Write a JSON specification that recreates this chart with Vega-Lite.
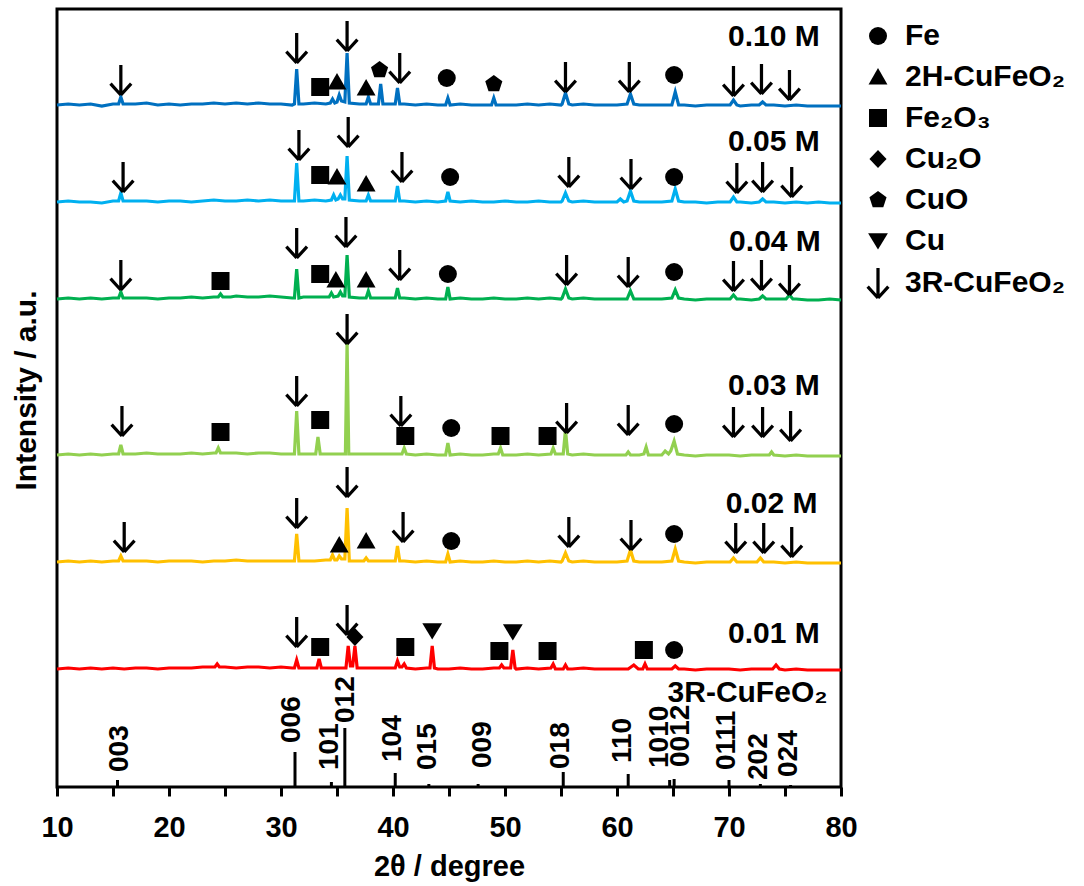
{
  "$schema": "https://vega.github.io/schema/vega-lite/v6.json",
  "width": 784,
  "height": 778,
  "autosize": {"type": "none"},
  "padding": {"left": 57, "top": 9, "right": 243, "bottom": 99},
  "config": {"view": {"stroke": "black", "strokeWidth": 3}, "font": "Liberation Sans"},
  "datasets": {
    "sticks": [
      {"x": 15.4, "y": 7}, {"x": 31.25, "y": 35}, {"x": 34.5, "y": 5}, {"x": 35.7, "y": 59},
      {"x": 40.2, "y": 14}, {"x": 43.2, "y": 3}, {"x": 47.6, "y": 3}, {"x": 55.2, "y": 15},
      {"x": 61.0, "y": 13}, {"x": 64.7, "y": 7}, {"x": 65.1, "y": 8}, {"x": 70.0, "y": 7},
      {"x": 72.8, "y": 3}, {"x": 75.5, "y": 2}
    ],
    "hkl": [
      {"t": "003", "x": 15.6, "y": 15}, {"t": "006", "x": 31.0, "y": 44}, {"t": "101", "x": 34.4, "y": 17},
      {"t": "012", "x": 35.8, "y": 64}, {"t": "104", "x": 40.0, "y": 25}, {"t": "015", "x": 43.1, "y": 17},
      {"t": "009", "x": 48.0, "y": 19}, {"t": "018", "x": 55.0, "y": 18}, {"t": "110", "x": 60.5, "y": 24},
      {"t": "1010", "x": 63.8, "y": 19}, {"t": "0012", "x": 65.7, "y": 20}, {"t": "0111", "x": 69.8, "y": 17},
      {"t": "202", "x": 72.7, "y": 7}, {"t": "024", "x": 75.4, "y": 10}
    ],
    "labels": [
      {"t": "0.10 M", "x": 78.1, "y": 750}, {"t": "0.05 M", "x": 78.1, "y": 645},
      {"t": "0.04 M", "x": 78.2, "y": 545}, {"t": "0.03 M", "x": 78.1, "y": 401},
      {"t": "0.02 M", "x": 77.9, "y": 283}, {"t": "0.01 M", "x": 78.1, "y": 153},
      {"t": "3R-CuFeO₂", "x": 78.8, "y": 94}
    ],
    "markers": [
      {"p": "3R-CuFeO₂", "x": 15.7, "y": 707}, {"p": "3R-CuFeO₂", "x": 31.4, "y": 739}, {"p": "Fe₂O₃", "x": 33.5, "y": 700},
      {"p": "2H-CuFeO₂", "x": 35.0, "y": 705}, {"p": "3R-CuFeO₂", "x": 35.9, "y": 751}, {"p": "2H-CuFeO₂", "x": 37.6, "y": 699},
      {"p": "CuO", "x": 38.8, "y": 717}, {"p": "3R-CuFeO₂", "x": 40.6, "y": 719}, {"p": "Fe", "x": 44.8, "y": 709},
      {"p": "CuO", "x": 49.0, "y": 703}, {"p": "3R-CuFeO₂", "x": 55.4, "y": 710}, {"p": "3R-CuFeO₂", "x": 61.1, "y": 710},
      {"p": "Fe", "x": 65.1, "y": 712}, {"p": "3R-CuFeO₂", "x": 70.4, "y": 706}, {"p": "3R-CuFeO₂", "x": 72.9, "y": 708},
      {"p": "3R-CuFeO₂", "x": 75.4, "y": 702},

      {"p": "3R-CuFeO₂", "x": 15.9, "y": 610}, {"p": "3R-CuFeO₂", "x": 31.6, "y": 642}, {"p": "Fe₂O₃", "x": 33.5, "y": 612},
      {"p": "2H-CuFeO₂", "x": 35.0, "y": 610}, {"p": "3R-CuFeO₂", "x": 36.0, "y": 655}, {"p": "2H-CuFeO₂", "x": 37.6, "y": 603},
      {"p": "3R-CuFeO₂", "x": 40.8, "y": 620}, {"p": "Fe", "x": 45.1, "y": 610}, {"p": "3R-CuFeO₂", "x": 55.7, "y": 615},
      {"p": "3R-CuFeO₂", "x": 61.25, "y": 613}, {"p": "Fe", "x": 65.1, "y": 610}, {"p": "3R-CuFeO₂", "x": 70.7, "y": 609},
      {"p": "3R-CuFeO₂", "x": 73.0, "y": 610}, {"p": "3R-CuFeO₂", "x": 75.6, "y": 605},

      {"p": "3R-CuFeO₂", "x": 15.7, "y": 512}, {"p": "Fe₂O₃", "x": 24.6, "y": 506}, {"p": "3R-CuFeO₂", "x": 31.4, "y": 544},
      {"p": "Fe₂O₃", "x": 33.5, "y": 513}, {"p": "2H-CuFeO₂", "x": 34.9, "y": 507}, {"p": "3R-CuFeO₂", "x": 35.8, "y": 555},
      {"p": "2H-CuFeO₂", "x": 37.6, "y": 507}, {"p": "3R-CuFeO₂", "x": 40.6, "y": 522}, {"p": "Fe", "x": 44.9, "y": 513},
      {"p": "3R-CuFeO₂", "x": 55.5, "y": 517}, {"p": "3R-CuFeO₂", "x": 61.0, "y": 515}, {"p": "Fe", "x": 65.1, "y": 515},
      {"p": "3R-CuFeO₂", "x": 70.4, "y": 511}, {"p": "3R-CuFeO₂", "x": 72.9, "y": 512}, {"p": "3R-CuFeO₂", "x": 75.4, "y": 507},

      {"p": "3R-CuFeO₂", "x": 15.8, "y": 366}, {"p": "Fe₂O₃", "x": 24.6, "y": 355}, {"p": "3R-CuFeO₂", "x": 31.4, "y": 396},
      {"p": "Fe₂O₃", "x": 33.5, "y": 367}, {"p": "3R-CuFeO₂", "x": 35.9, "y": 458}, {"p": "3R-CuFeO₂", "x": 40.7, "y": 376},
      {"p": "Fe₂O₃", "x": 41.1, "y": 351}, {"p": "Fe", "x": 45.2, "y": 359}, {"p": "Fe₂O₃", "x": 49.6, "y": 351},
      {"p": "Fe₂O₃", "x": 53.8, "y": 351}, {"p": "3R-CuFeO₂", "x": 55.5, "y": 369}, {"p": "3R-CuFeO₂", "x": 61.0, "y": 367},
      {"p": "Fe", "x": 65.1, "y": 363}, {"p": "3R-CuFeO₂", "x": 70.4, "y": 365}, {"p": "3R-CuFeO₂", "x": 73.0, "y": 365},
      {"p": "3R-CuFeO₂", "x": 75.5, "y": 361},

      {"p": "3R-CuFeO₂", "x": 16.0, "y": 250}, {"p": "3R-CuFeO₂", "x": 31.4, "y": 274}, {"p": "2H-CuFeO₂", "x": 35.2, "y": 242},
      {"p": "3R-CuFeO₂", "x": 35.9, "y": 305}, {"p": "2H-CuFeO₂", "x": 37.6, "y": 246}, {"p": "3R-CuFeO₂", "x": 40.9, "y": 260},
      {"p": "Fe", "x": 45.2, "y": 246}, {"p": "3R-CuFeO₂", "x": 55.7, "y": 255}, {"p": "3R-CuFeO₂", "x": 61.25, "y": 252},
      {"p": "Fe", "x": 65.1, "y": 253}, {"p": "3R-CuFeO₂", "x": 70.6, "y": 249}, {"p": "3R-CuFeO₂", "x": 73.1, "y": 249},
      {"p": "3R-CuFeO₂", "x": 75.6, "y": 245},

      {"p": "3R-CuFeO₂", "x": 31.4, "y": 155}, {"p": "Fe₂O₃", "x": 33.5, "y": 140}, {"p": "3R-CuFeO₂", "x": 35.9, "y": 167},
      {"p": "Cu₂O", "x": 36.6, "y": 150}, {"p": "Fe₂O₃", "x": 41.1, "y": 140}, {"p": "Cu", "x": 43.5, "y": 156},
      {"p": "Fe₂O₃", "x": 49.5, "y": 136}, {"p": "Cu", "x": 50.7, "y": 155}, {"p": "Fe₂O₃", "x": 53.8, "y": 136},
      {"p": "Fe₂O₃", "x": 62.4, "y": 137}, {"p": "Fe", "x": 65.1, "y": 137}
    ],
    "curves": [
      {"s":"0.10 M","x":10,"y":682},{"s":"0.10 M","x":11,"y":683},{"s":"0.10 M","x":12,"y":682},{"s":"0.10 M","x":13,"y":683},{"s":"0.10 M","x":14,"y":681},{"s":"0.10 M","x":15,"y":683},{"s":"0.10 M","x":15.5,"y":683},{"s":"0.10 M","x":15.7,"y":690},{"s":"0.10 M","x":15.9,"y":683},{"s":"0.10 M","x":17,"y":683},{"s":"0.10 M","x":18,"y":684},{"s":"0.10 M","x":19,"y":682},{"s":"0.10 M","x":20,"y":683},{"s":"0.10 M","x":21,"y":682},{"s":"0.10 M","x":22,"y":683},{"s":"0.10 M","x":23,"y":683},{"s":"0.10 M","x":24,"y":684},{"s":"0.10 M","x":25,"y":683},{"s":"0.10 M","x":26,"y":684},{"s":"0.10 M","x":27,"y":683},{"s":"0.10 M","x":28,"y":684},{"s":"0.10 M","x":29,"y":683},{"s":"0.10 M","x":30,"y":683},{"s":"0.10 M","x":31,"y":682},{"s":"0.10 M","x":31.2,"y":683},{"s":"0.10 M","x":31.4,"y":718},{"s":"0.10 M","x":31.6,"y":683},{"s":"0.10 M","x":32,"y":683},{"s":"0.10 M","x":33,"y":684},{"s":"0.10 M","x":34,"y":683},{"s":"0.10 M","x":34.4,"y":684},{"s":"0.10 M","x":34.6,"y":688},{"s":"0.10 M","x":34.8,"y":684},{"s":"0.10 M","x":35.0,"y":685},{"s":"0.10 M","x":35.2,"y":692},{"s":"0.10 M","x":35.4,"y":686},{"s":"0.10 M","x":35.7,"y":685},{"s":"0.10 M","x":35.9,"y":734},{"s":"0.10 M","x":36.1,"y":684},{"s":"0.10 M","x":37,"y":683},{"s":"0.10 M","x":37.6,"y":683},{"s":"0.10 M","x":37.8,"y":690},{"s":"0.10 M","x":38.0,"y":683},{"s":"0.10 M","x":38.7,"y":683},{"s":"0.10 M","x":38.9,"y":703},{"s":"0.10 M","x":39.1,"y":683},{"s":"0.10 M","x":40,"y":683},{"s":"0.10 M","x":40.2,"y":683},{"s":"0.10 M","x":40.4,"y":699},{"s":"0.10 M","x":40.6,"y":683},{"s":"0.10 M","x":41,"y":683},{"s":"0.10 M","x":42,"y":682},{"s":"0.10 M","x":43,"y":683},{"s":"0.10 M","x":44,"y":682},{"s":"0.10 M","x":44.7,"y":682},{"s":"0.10 M","x":44.9,"y":689},{"s":"0.10 M","x":45.1,"y":682},{"s":"0.10 M","x":46,"y":683},{"s":"0.10 M","x":47,"y":682},{"s":"0.10 M","x":48,"y":682},{"s":"0.10 M","x":48.8,"y":682},{"s":"0.10 M","x":49.0,"y":689},{"s":"0.10 M","x":49.2,"y":682},{"s":"0.10 M","x":50,"y":682},{"s":"0.10 M","x":51,"y":682},{"s":"0.10 M","x":52,"y":683},{"s":"0.10 M","x":53,"y":682},{"s":"0.10 M","x":54,"y":683},{"s":"0.10 M","x":55,"y":682},{"s":"0.10 M","x":55.1,"y":683},{"s":"0.10 M","x":55.4,"y":694},{"s":"0.10 M","x":55.7,"y":683},{"s":"0.10 M","x":56,"y":682},{"s":"0.10 M","x":57,"y":683},{"s":"0.10 M","x":58,"y":682},{"s":"0.10 M","x":59,"y":682},{"s":"0.10 M","x":60,"y":682},{"s":"0.10 M","x":60.9,"y":683},{"s":"0.10 M","x":61.2,"y":693},{"s":"0.10 M","x":61.5,"y":683},{"s":"0.10 M","x":62,"y":682},{"s":"0.10 M","x":63,"y":682},{"s":"0.10 M","x":64,"y":682},{"s":"0.10 M","x":64.9,"y":682},{"s":"0.10 M","x":65.2,"y":695},{"s":"0.10 M","x":65.5,"y":682},{"s":"0.10 M","x":66,"y":682},{"s":"0.10 M","x":67,"y":681},{"s":"0.10 M","x":68,"y":682},{"s":"0.10 M","x":69,"y":682},{"s":"0.10 M","x":70,"y":682},{"s":"0.10 M","x":70.1,"y":682},{"s":"0.10 M","x":70.4,"y":687},{"s":"0.10 M","x":70.7,"y":682},{"s":"0.10 M","x":71,"y":681},{"s":"0.10 M","x":72,"y":682},{"s":"0.10 M","x":72.7,"y":682},{"s":"0.10 M","x":73.0,"y":685},{"s":"0.10 M","x":73.3,"y":682},{"s":"0.10 M","x":74,"y":682},{"s":"0.10 M","x":75,"y":681},{"s":"0.10 M","x":76,"y":682},{"s":"0.10 M","x":77,"y":681},{"s":"0.10 M","x":78,"y":681},{"s":"0.10 M","x":79,"y":681},{"s":"0.10 M","x":80,"y":681},

      {"s":"0.05 M","x":10,"y":585},{"s":"0.05 M","x":11,"y":586},{"s":"0.05 M","x":12,"y":585},{"s":"0.05 M","x":13,"y":585},{"s":"0.05 M","x":14,"y":584},{"s":"0.05 M","x":15,"y":586},{"s":"0.05 M","x":15.5,"y":586},{"s":"0.05 M","x":15.7,"y":594},{"s":"0.05 M","x":15.9,"y":586},{"s":"0.05 M","x":17,"y":586},{"s":"0.05 M","x":18,"y":586},{"s":"0.05 M","x":19,"y":585},{"s":"0.05 M","x":20,"y":586},{"s":"0.05 M","x":21,"y":586},{"s":"0.05 M","x":22,"y":585},{"s":"0.05 M","x":23,"y":586},{"s":"0.05 M","x":24,"y":587},{"s":"0.05 M","x":25,"y":586},{"s":"0.05 M","x":26,"y":586},{"s":"0.05 M","x":27,"y":587},{"s":"0.05 M","x":28,"y":586},{"s":"0.05 M","x":29,"y":587},{"s":"0.05 M","x":30,"y":586},{"s":"0.05 M","x":31,"y":586},{"s":"0.05 M","x":31.2,"y":586},{"s":"0.05 M","x":31.4,"y":624},{"s":"0.05 M","x":31.6,"y":586},{"s":"0.05 M","x":32,"y":586},{"s":"0.05 M","x":33,"y":587},{"s":"0.05 M","x":34,"y":586},{"s":"0.05 M","x":34.5,"y":587},{"s":"0.05 M","x":34.7,"y":592},{"s":"0.05 M","x":34.9,"y":587},{"s":"0.05 M","x":35.1,"y":588},{"s":"0.05 M","x":35.3,"y":592},{"s":"0.05 M","x":35.5,"y":588},{"s":"0.05 M","x":35.7,"y":588},{"s":"0.05 M","x":35.9,"y":631},{"s":"0.05 M","x":36.1,"y":587},{"s":"0.05 M","x":37,"y":586},{"s":"0.05 M","x":37.6,"y":586},{"s":"0.05 M","x":37.8,"y":592},{"s":"0.05 M","x":38.0,"y":586},{"s":"0.05 M","x":39,"y":586},{"s":"0.05 M","x":40,"y":586},{"s":"0.05 M","x":40.2,"y":586},{"s":"0.05 M","x":40.4,"y":601},{"s":"0.05 M","x":40.6,"y":586},{"s":"0.05 M","x":41,"y":586},{"s":"0.05 M","x":42,"y":585},{"s":"0.05 M","x":43,"y":586},{"s":"0.05 M","x":44,"y":585},{"s":"0.05 M","x":44.7,"y":586},{"s":"0.05 M","x":44.9,"y":595},{"s":"0.05 M","x":45.1,"y":586},{"s":"0.05 M","x":46,"y":585},{"s":"0.05 M","x":47,"y":586},{"s":"0.05 M","x":48,"y":585},{"s":"0.05 M","x":49,"y":585},{"s":"0.05 M","x":50,"y":586},{"s":"0.05 M","x":51,"y":585},{"s":"0.05 M","x":52,"y":585},{"s":"0.05 M","x":53,"y":586},{"s":"0.05 M","x":54,"y":585},{"s":"0.05 M","x":55,"y":585},{"s":"0.05 M","x":55.1,"y":586},{"s":"0.05 M","x":55.4,"y":594},{"s":"0.05 M","x":55.7,"y":586},{"s":"0.05 M","x":56,"y":585},{"s":"0.05 M","x":57,"y":586},{"s":"0.05 M","x":58,"y":585},{"s":"0.05 M","x":59,"y":585},{"s":"0.05 M","x":60,"y":585},{"s":"0.05 M","x":60.3,"y":588},{"s":"0.05 M","x":60.6,"y":585},{"s":"0.05 M","x":60.9,"y":586},{"s":"0.05 M","x":61.2,"y":596},{"s":"0.05 M","x":61.5,"y":586},{"s":"0.05 M","x":62,"y":585},{"s":"0.05 M","x":63,"y":585},{"s":"0.05 M","x":64,"y":585},{"s":"0.05 M","x":64.9,"y":586},{"s":"0.05 M","x":65.2,"y":598},{"s":"0.05 M","x":65.5,"y":586},{"s":"0.05 M","x":66,"y":585},{"s":"0.05 M","x":67,"y":585},{"s":"0.05 M","x":68,"y":584},{"s":"0.05 M","x":69,"y":585},{"s":"0.05 M","x":70,"y":585},{"s":"0.05 M","x":70.1,"y":585},{"s":"0.05 M","x":70.4,"y":590},{"s":"0.05 M","x":70.7,"y":585},{"s":"0.05 M","x":71,"y":585},{"s":"0.05 M","x":72,"y":584},{"s":"0.05 M","x":72.7,"y":585},{"s":"0.05 M","x":73.0,"y":588},{"s":"0.05 M","x":73.3,"y":585},{"s":"0.05 M","x":74,"y":585},{"s":"0.05 M","x":75,"y":584},{"s":"0.05 M","x":76,"y":585},{"s":"0.05 M","x":77,"y":584},{"s":"0.05 M","x":78,"y":585},{"s":"0.05 M","x":79,"y":584},{"s":"0.05 M","x":80,"y":584},

      {"s":"0.04 M","x":10,"y":488},{"s":"0.04 M","x":11,"y":489},{"s":"0.04 M","x":12,"y":488},{"s":"0.04 M","x":13,"y":489},{"s":"0.04 M","x":14,"y":488},{"s":"0.04 M","x":15,"y":489},{"s":"0.04 M","x":15.5,"y":489},{"s":"0.04 M","x":15.7,"y":495},{"s":"0.04 M","x":15.9,"y":489},{"s":"0.04 M","x":17,"y":489},{"s":"0.04 M","x":18,"y":489},{"s":"0.04 M","x":19,"y":488},{"s":"0.04 M","x":20,"y":489},{"s":"0.04 M","x":21,"y":489},{"s":"0.04 M","x":22,"y":490},{"s":"0.04 M","x":23,"y":489},{"s":"0.04 M","x":24,"y":490},{"s":"0.04 M","x":24.4,"y":490},{"s":"0.04 M","x":24.6,"y":493},{"s":"0.04 M","x":24.8,"y":490},{"s":"0.04 M","x":25.5,"y":490},{"s":"0.04 M","x":26,"y":491},{"s":"0.04 M","x":27,"y":490},{"s":"0.04 M","x":28,"y":490},{"s":"0.04 M","x":29,"y":491},{"s":"0.04 M","x":30,"y":490},{"s":"0.04 M","x":31,"y":489},{"s":"0.04 M","x":31.2,"y":489},{"s":"0.04 M","x":31.4,"y":518},{"s":"0.04 M","x":31.6,"y":489},{"s":"0.04 M","x":32,"y":490},{"s":"0.04 M","x":33,"y":490},{"s":"0.04 M","x":34,"y":490},{"s":"0.04 M","x":34.3,"y":490},{"s":"0.04 M","x":34.5,"y":494},{"s":"0.04 M","x":34.7,"y":490},{"s":"0.04 M","x":35.1,"y":491},{"s":"0.04 M","x":35.3,"y":495},{"s":"0.04 M","x":35.5,"y":491},{"s":"0.04 M","x":35.7,"y":491},{"s":"0.04 M","x":35.9,"y":532},{"s":"0.04 M","x":36.1,"y":490},{"s":"0.04 M","x":37,"y":489},{"s":"0.04 M","x":37.6,"y":489},{"s":"0.04 M","x":37.8,"y":496},{"s":"0.04 M","x":38.0,"y":489},{"s":"0.04 M","x":39,"y":489},{"s":"0.04 M","x":40,"y":489},{"s":"0.04 M","x":40.2,"y":489},{"s":"0.04 M","x":40.4,"y":499},{"s":"0.04 M","x":40.6,"y":489},{"s":"0.04 M","x":41,"y":489},{"s":"0.04 M","x":42,"y":488},{"s":"0.04 M","x":43,"y":489},{"s":"0.04 M","x":44,"y":488},{"s":"0.04 M","x":44.7,"y":488},{"s":"0.04 M","x":44.9,"y":500},{"s":"0.04 M","x":45.1,"y":488},{"s":"0.04 M","x":46,"y":489},{"s":"0.04 M","x":47,"y":488},{"s":"0.04 M","x":48,"y":488},{"s":"0.04 M","x":49,"y":489},{"s":"0.04 M","x":50,"y":488},{"s":"0.04 M","x":51,"y":488},{"s":"0.04 M","x":52,"y":489},{"s":"0.04 M","x":53,"y":488},{"s":"0.04 M","x":54,"y":489},{"s":"0.04 M","x":55,"y":488},{"s":"0.04 M","x":55.1,"y":489},{"s":"0.04 M","x":55.4,"y":498},{"s":"0.04 M","x":55.7,"y":489},{"s":"0.04 M","x":56,"y":488},{"s":"0.04 M","x":57,"y":489},{"s":"0.04 M","x":58,"y":488},{"s":"0.04 M","x":59,"y":488},{"s":"0.04 M","x":60,"y":488},{"s":"0.04 M","x":60.9,"y":488},{"s":"0.04 M","x":61.2,"y":496},{"s":"0.04 M","x":61.5,"y":488},{"s":"0.04 M","x":62,"y":488},{"s":"0.04 M","x":63,"y":488},{"s":"0.04 M","x":64,"y":488},{"s":"0.04 M","x":64.9,"y":489},{"s":"0.04 M","x":65.2,"y":497},{"s":"0.04 M","x":65.5,"y":489},{"s":"0.04 M","x":66,"y":488},{"s":"0.04 M","x":67,"y":487},{"s":"0.04 M","x":68,"y":488},{"s":"0.04 M","x":69,"y":488},{"s":"0.04 M","x":70,"y":488},{"s":"0.04 M","x":70.1,"y":488},{"s":"0.04 M","x":70.4,"y":492},{"s":"0.04 M","x":70.7,"y":488},{"s":"0.04 M","x":71,"y":488},{"s":"0.04 M","x":72,"y":487},{"s":"0.04 M","x":72.7,"y":488},{"s":"0.04 M","x":73.0,"y":491},{"s":"0.04 M","x":73.3,"y":488},{"s":"0.04 M","x":74,"y":488},{"s":"0.04 M","x":75.1,"y":488},{"s":"0.04 M","x":75.4,"y":492},{"s":"0.04 M","x":75.7,"y":488},{"s":"0.04 M","x":76,"y":488},{"s":"0.04 M","x":77,"y":487},{"s":"0.04 M","x":78,"y":487},{"s":"0.04 M","x":79,"y":488},{"s":"0.04 M","x":80,"y":487},

      {"s":"0.03 M","x":10,"y":332},{"s":"0.03 M","x":11,"y":333},{"s":"0.03 M","x":12,"y":332},{"s":"0.03 M","x":13,"y":333},{"s":"0.03 M","x":14,"y":332},{"s":"0.03 M","x":15,"y":333},{"s":"0.03 M","x":15.5,"y":333},{"s":"0.03 M","x":15.7,"y":342},{"s":"0.03 M","x":15.9,"y":333},{"s":"0.03 M","x":17,"y":333},{"s":"0.03 M","x":18,"y":334},{"s":"0.03 M","x":19,"y":333},{"s":"0.03 M","x":20,"y":333},{"s":"0.03 M","x":21,"y":333},{"s":"0.03 M","x":22,"y":334},{"s":"0.03 M","x":23,"y":333},{"s":"0.03 M","x":24,"y":334},{"s":"0.03 M","x":24.2,"y":334},{"s":"0.03 M","x":24.4,"y":339},{"s":"0.03 M","x":24.6,"y":334},{"s":"0.03 M","x":25,"y":334},{"s":"0.03 M","x":26,"y":334},{"s":"0.03 M","x":27,"y":333},{"s":"0.03 M","x":28,"y":334},{"s":"0.03 M","x":29,"y":334},{"s":"0.03 M","x":30,"y":333},{"s":"0.03 M","x":31,"y":333},{"s":"0.03 M","x":31.2,"y":333},{"s":"0.03 M","x":31.4,"y":376},{"s":"0.03 M","x":31.6,"y":333},{"s":"0.03 M","x":32,"y":333},{"s":"0.03 M","x":33.1,"y":333},{"s":"0.03 M","x":33.3,"y":350},{"s":"0.03 M","x":33.5,"y":333},{"s":"0.03 M","x":34,"y":333},{"s":"0.03 M","x":35,"y":333},{"s":"0.03 M","x":35.75,"y":333},{"s":"0.03 M","x":35.9,"y":445},{"s":"0.03 M","x":36.05,"y":333},{"s":"0.03 M","x":37,"y":333},{"s":"0.03 M","x":38,"y":333},{"s":"0.03 M","x":39,"y":333},{"s":"0.03 M","x":40,"y":333},{"s":"0.03 M","x":40.8,"y":333},{"s":"0.03 M","x":41.0,"y":339},{"s":"0.03 M","x":41.2,"y":333},{"s":"0.03 M","x":42,"y":332},{"s":"0.03 M","x":43,"y":333},{"s":"0.03 M","x":44,"y":332},{"s":"0.03 M","x":44.7,"y":332},{"s":"0.03 M","x":44.9,"y":344},{"s":"0.03 M","x":45.1,"y":332},{"s":"0.03 M","x":46,"y":333},{"s":"0.03 M","x":47,"y":332},{"s":"0.03 M","x":48,"y":332},{"s":"0.03 M","x":49,"y":333},{"s":"0.03 M","x":49.4,"y":333},{"s":"0.03 M","x":49.6,"y":339},{"s":"0.03 M","x":49.8,"y":332},{"s":"0.03 M","x":51,"y":332},{"s":"0.03 M","x":52,"y":333},{"s":"0.03 M","x":53,"y":332},{"s":"0.03 M","x":54.1,"y":333},{"s":"0.03 M","x":54.3,"y":339},{"s":"0.03 M","x":54.5,"y":333},{"s":"0.03 M","x":55.2,"y":333},{"s":"0.03 M","x":55.4,"y":357},{"s":"0.03 M","x":55.6,"y":333},{"s":"0.03 M","x":56,"y":332},{"s":"0.03 M","x":57,"y":333},{"s":"0.03 M","x":58,"y":332},{"s":"0.03 M","x":59,"y":332},{"s":"0.03 M","x":60,"y":332},{"s":"0.03 M","x":60.8,"y":332},{"s":"0.03 M","x":61.0,"y":335},{"s":"0.03 M","x":61.2,"y":332},{"s":"0.03 M","x":62,"y":332},{"s":"0.03 M","x":62.4,"y":333},{"s":"0.03 M","x":62.6,"y":340},{"s":"0.03 M","x":62.8,"y":332},{"s":"0.03 M","x":63,"y":332},{"s":"0.03 M","x":64,"y":332},{"s":"0.03 M","x":64.3,"y":336},{"s":"0.03 M","x":64.6,"y":333},{"s":"0.03 M","x":64.8,"y":336},{"s":"0.03 M","x":65.1,"y":346},{"s":"0.03 M","x":65.4,"y":333},{"s":"0.03 M","x":66,"y":332},{"s":"0.03 M","x":67,"y":331},{"s":"0.03 M","x":68,"y":332},{"s":"0.03 M","x":69,"y":332},{"s":"0.03 M","x":70,"y":332},{"s":"0.03 M","x":71,"y":331},{"s":"0.03 M","x":72,"y":332},{"s":"0.03 M","x":73,"y":332},{"s":"0.03 M","x":73.6,"y":332},{"s":"0.03 M","x":73.8,"y":335},{"s":"0.03 M","x":74.0,"y":332},{"s":"0.03 M","x":75,"y":331},{"s":"0.03 M","x":76,"y":332},{"s":"0.03 M","x":77,"y":331},{"s":"0.03 M","x":78,"y":331},{"s":"0.03 M","x":79,"y":331},{"s":"0.03 M","x":80,"y":331},

      {"s":"0.02 M","x":10,"y":225},{"s":"0.02 M","x":11,"y":226},{"s":"0.02 M","x":12,"y":225},{"s":"0.02 M","x":13,"y":226},{"s":"0.02 M","x":14,"y":225},{"s":"0.02 M","x":15,"y":226},{"s":"0.02 M","x":15.5,"y":226},{"s":"0.02 M","x":15.7,"y":231},{"s":"0.02 M","x":15.9,"y":226},{"s":"0.02 M","x":17,"y":226},{"s":"0.02 M","x":18,"y":226},{"s":"0.02 M","x":19,"y":225},{"s":"0.02 M","x":20,"y":226},{"s":"0.02 M","x":21,"y":226},{"s":"0.02 M","x":22,"y":226},{"s":"0.02 M","x":23,"y":225},{"s":"0.02 M","x":24,"y":226},{"s":"0.02 M","x":25,"y":226},{"s":"0.02 M","x":26,"y":227},{"s":"0.02 M","x":27,"y":226},{"s":"0.02 M","x":28,"y":226},{"s":"0.02 M","x":29,"y":226},{"s":"0.02 M","x":30,"y":226},{"s":"0.02 M","x":31,"y":226},{"s":"0.02 M","x":31.2,"y":226},{"s":"0.02 M","x":31.4,"y":253},{"s":"0.02 M","x":31.6,"y":226},{"s":"0.02 M","x":32,"y":226},{"s":"0.02 M","x":33,"y":226},{"s":"0.02 M","x":34,"y":227},{"s":"0.02 M","x":34.4,"y":227},{"s":"0.02 M","x":34.6,"y":232},{"s":"0.02 M","x":34.8,"y":227},{"s":"0.02 M","x":35.0,"y":227},{"s":"0.02 M","x":35.2,"y":231},{"s":"0.02 M","x":35.4,"y":228},{"s":"0.02 M","x":35.7,"y":228},{"s":"0.02 M","x":35.9,"y":279},{"s":"0.02 M","x":36.1,"y":226},{"s":"0.02 M","x":37,"y":226},{"s":"0.02 M","x":37.4,"y":226},{"s":"0.02 M","x":37.6,"y":229},{"s":"0.02 M","x":37.8,"y":226},{"s":"0.02 M","x":38.5,"y":226},{"s":"0.02 M","x":39,"y":226},{"s":"0.02 M","x":40,"y":226},{"s":"0.02 M","x":40.2,"y":226},{"s":"0.02 M","x":40.4,"y":241},{"s":"0.02 M","x":40.6,"y":226},{"s":"0.02 M","x":41,"y":226},{"s":"0.02 M","x":42,"y":225},{"s":"0.02 M","x":43,"y":226},{"s":"0.02 M","x":44,"y":225},{"s":"0.02 M","x":44.7,"y":225},{"s":"0.02 M","x":44.9,"y":233},{"s":"0.02 M","x":45.1,"y":225},{"s":"0.02 M","x":46,"y":226},{"s":"0.02 M","x":47,"y":225},{"s":"0.02 M","x":48,"y":225},{"s":"0.02 M","x":49,"y":226},{"s":"0.02 M","x":50,"y":225},{"s":"0.02 M","x":51,"y":225},{"s":"0.02 M","x":52,"y":226},{"s":"0.02 M","x":53,"y":225},{"s":"0.02 M","x":54,"y":226},{"s":"0.02 M","x":55,"y":225},{"s":"0.02 M","x":55.1,"y":226},{"s":"0.02 M","x":55.4,"y":234},{"s":"0.02 M","x":55.7,"y":226},{"s":"0.02 M","x":56,"y":225},{"s":"0.02 M","x":57,"y":226},{"s":"0.02 M","x":58,"y":225},{"s":"0.02 M","x":59,"y":225},{"s":"0.02 M","x":60,"y":225},{"s":"0.02 M","x":60.9,"y":226},{"s":"0.02 M","x":61.2,"y":237},{"s":"0.02 M","x":61.5,"y":226},{"s":"0.02 M","x":62,"y":225},{"s":"0.02 M","x":63,"y":225},{"s":"0.02 M","x":64,"y":225},{"s":"0.02 M","x":64.9,"y":226},{"s":"0.02 M","x":65.2,"y":238},{"s":"0.02 M","x":65.5,"y":226},{"s":"0.02 M","x":66,"y":225},{"s":"0.02 M","x":67,"y":224},{"s":"0.02 M","x":68,"y":225},{"s":"0.02 M","x":69,"y":225},{"s":"0.02 M","x":70,"y":225},{"s":"0.02 M","x":70.1,"y":225},{"s":"0.02 M","x":70.4,"y":229},{"s":"0.02 M","x":70.7,"y":225},{"s":"0.02 M","x":71,"y":225},{"s":"0.02 M","x":72,"y":225},{"s":"0.02 M","x":72.5,"y":225},{"s":"0.02 M","x":72.8,"y":229},{"s":"0.02 M","x":73.1,"y":225},{"s":"0.02 M","x":74,"y":225},{"s":"0.02 M","x":75,"y":224},{"s":"0.02 M","x":76,"y":225},{"s":"0.02 M","x":77,"y":224},{"s":"0.02 M","x":78,"y":224},{"s":"0.02 M","x":79,"y":224},{"s":"0.02 M","x":80,"y":224},

      {"s":"0.01 M","x":10,"y":118},{"s":"0.01 M","x":11,"y":119},{"s":"0.01 M","x":12,"y":118},{"s":"0.01 M","x":13,"y":119},{"s":"0.01 M","x":14,"y":118},{"s":"0.01 M","x":15,"y":119},{"s":"0.01 M","x":16,"y":118},{"s":"0.01 M","x":17,"y":119},{"s":"0.01 M","x":18,"y":119},{"s":"0.01 M","x":19,"y":118},{"s":"0.01 M","x":20,"y":119},{"s":"0.01 M","x":21,"y":119},{"s":"0.01 M","x":22,"y":119},{"s":"0.01 M","x":23,"y":120},{"s":"0.01 M","x":24.1,"y":120},{"s":"0.01 M","x":24.3,"y":123},{"s":"0.01 M","x":24.5,"y":120},{"s":"0.01 M","x":25,"y":120},{"s":"0.01 M","x":26,"y":119},{"s":"0.01 M","x":27,"y":120},{"s":"0.01 M","x":28,"y":120},{"s":"0.01 M","x":29,"y":119},{"s":"0.01 M","x":30,"y":120},{"s":"0.01 M","x":31,"y":119},{"s":"0.01 M","x":31.2,"y":119},{"s":"0.01 M","x":31.4,"y":127},{"s":"0.01 M","x":31.6,"y":119},{"s":"0.01 M","x":32,"y":119},{"s":"0.01 M","x":33,"y":119},{"s":"0.01 M","x":33.2,"y":119},{"s":"0.01 M","x":33.4,"y":128},{"s":"0.01 M","x":33.6,"y":119},{"s":"0.01 M","x":34,"y":119},{"s":"0.01 M","x":35,"y":119},{"s":"0.01 M","x":35.8,"y":119},{"s":"0.01 M","x":36.0,"y":141},{"s":"0.01 M","x":36.2,"y":121},{"s":"0.01 M","x":36.4,"y":121},{"s":"0.01 M","x":36.6,"y":141},{"s":"0.01 M","x":36.8,"y":119},{"s":"0.01 M","x":37.5,"y":119},{"s":"0.01 M","x":38,"y":119},{"s":"0.01 M","x":39,"y":119},{"s":"0.01 M","x":40,"y":119},{"s":"0.01 M","x":40.2,"y":119},{"s":"0.01 M","x":40.4,"y":126},{"s":"0.01 M","x":40.6,"y":120},{"s":"0.01 M","x":40.8,"y":120},{"s":"0.01 M","x":41.0,"y":123},{"s":"0.01 M","x":41.2,"y":119},{"s":"0.01 M","x":42,"y":118},{"s":"0.01 M","x":43,"y":119},{"s":"0.01 M","x":43.3,"y":119},{"s":"0.01 M","x":43.5,"y":141},{"s":"0.01 M","x":43.7,"y":119},{"s":"0.01 M","x":44,"y":118},{"s":"0.01 M","x":45,"y":118},{"s":"0.01 M","x":46,"y":119},{"s":"0.01 M","x":47,"y":118},{"s":"0.01 M","x":48,"y":118},{"s":"0.01 M","x":49,"y":119},{"s":"0.01 M","x":49.5,"y":119},{"s":"0.01 M","x":49.7,"y":122},{"s":"0.01 M","x":49.9,"y":119},{"s":"0.01 M","x":50.5,"y":119},{"s":"0.01 M","x":50.7,"y":137},{"s":"0.01 M","x":50.9,"y":119},{"s":"0.01 M","x":51,"y":118},{"s":"0.01 M","x":52,"y":119},{"s":"0.01 M","x":53,"y":118},{"s":"0.01 M","x":54.1,"y":119},{"s":"0.01 M","x":54.3,"y":123},{"s":"0.01 M","x":54.5,"y":118},{"s":"0.01 M","x":55.2,"y":118},{"s":"0.01 M","x":55.4,"y":122},{"s":"0.01 M","x":55.6,"y":118},{"s":"0.01 M","x":56,"y":118},{"s":"0.01 M","x":57,"y":119},{"s":"0.01 M","x":58,"y":118},{"s":"0.01 M","x":59,"y":118},{"s":"0.01 M","x":60,"y":118},{"s":"0.01 M","x":61,"y":118},{"s":"0.01 M","x":61.5,"y":122},{"s":"0.01 M","x":61.9,"y":118},{"s":"0.01 M","x":62.3,"y":118},{"s":"0.01 M","x":62.5,"y":123},{"s":"0.01 M","x":62.7,"y":118},{"s":"0.01 M","x":63,"y":118},{"s":"0.01 M","x":64,"y":118},{"s":"0.01 M","x":64.9,"y":118},{"s":"0.01 M","x":65.2,"y":121},{"s":"0.01 M","x":65.5,"y":118},{"s":"0.01 M","x":66,"y":118},{"s":"0.01 M","x":67,"y":117},{"s":"0.01 M","x":68,"y":118},{"s":"0.01 M","x":69,"y":118},{"s":"0.01 M","x":70,"y":118},{"s":"0.01 M","x":71,"y":117},{"s":"0.01 M","x":72,"y":118},{"s":"0.01 M","x":73,"y":118},{"s":"0.01 M","x":73.9,"y":118},{"s":"0.01 M","x":74.2,"y":122},{"s":"0.01 M","x":74.5,"y":118},{"s":"0.01 M","x":75,"y":117},{"s":"0.01 M","x":76,"y":118},{"s":"0.01 M","x":77,"y":117},{"s":"0.01 M","x":78,"y":117},{"s":"0.01 M","x":79,"y":117},{"s":"0.01 M","x":80,"y":117}
    ]
  },
  "encoding": {
    "x": {
      "field": "x", "type": "quantitative",
      "scale": {"domain": [10, 80], "nice": false, "zero": false},
      "axis": {
        "title": "2θ / degree",
        "values": [10, 15, 20, 25, 30, 35, 40, 45, 50, 55, 60, 65, 70, 75, 80],
        "labelExpr": "datum.value % 10 === 0 ? datum.label : ''",
        "grid": false, "domain": false,
        "tickSize": 9, "tickWidth": 3, "tickColor": "black",
        "labelFontSize": 29, "labelFontWeight": "bold", "labelColor": "black",
        "labelPadding": 17, "labelFlush": false, "labelOverlap": false,
        "titleFontSize": 29, "titleFontWeight": "bold", "titleColor": "black", "titlePadding": 10
      }
    },
    "y": {
      "field": "y", "type": "quantitative",
      "scale": {"domain": [0, 778], "nice": false, "zero": false},
      "axis": {
        "title": "Intensity / a.u.", "labels": false, "ticks": false, "domain": false, "grid": false,
        "titleFontSize": 30, "titleFontWeight": "bold", "titleColor": "black", "titlePadding": 16,
        "titleY": 381
      }
    }
  },
  "layer": [
    {
      "data": {"name": "sticks"},
      "mark": {"type": "rule", "color": "black", "strokeWidth": 3},
      "encoding": {"y2": {"datum": 0}}
    },
    {
      "data": {"name": "hkl"},
      "mark": {"type": "text", "angle": 270, "align": "left", "baseline": "middle", "fontSize": 28, "fontWeight": "bold", "color": "black"},
      "encoding": {"text": {"field": "t"}}
    },
    {
      "data": {"name": "curves"},
      "mark": {"type": "line", "strokeWidth": 3.2},
      "encoding": {
        "color": {
          "field": "s", "type": "nominal", "legend": null,
          "scale": {
            "domain": ["0.10 M", "0.05 M", "0.04 M", "0.03 M", "0.02 M", "0.01 M"],
            "range": ["#0070C0", "#00B0F0", "#00B050", "#92D050", "#FFC000", "#FF0000"]
          }
        },
        "detail": {"field": "s"}
      }
    },
    {
      "data": {"name": "markers"},
      "mark": {"type": "point", "filled": true, "color": "black", "opacity": 1, "size": 324, "strokeWidth": 0},
      "encoding": {
        "shape": {
          "field": "p", "type": "nominal",
          "scale": {
            "domain": ["Fe", "2H-CuFeO₂", "Fe₂O₃", "Cu₂O", "CuO", "Cu", "3R-CuFeO₂"],
            "range": [
              "circle",
              "M0,-1L1.05,0.82L-1.05,0.82Z",
              "square",
              "M0,-1L0.95,0L0,1L-0.95,0Z",
              "M0,-1L0.951,-0.309L0.588,0.809L-0.588,0.809L-0.951,-0.309Z",
              "M-1.1,-0.85L1.1,-0.85L0,0.95Z",
              "M-0.18,-1.67L0.18,-1.67L0.18,1.5L-0.18,1.5ZM-0.133,1.791L-1.283,0.521L-1.017,0.279L0.133,1.549ZM-0.133,1.549L1.017,0.279L1.283,0.521L0.133,1.791Z"
            ]
          },
          "legend": {
            "orient": "none", "legendX": 806, "legendY": 12, "title": null, "padding": 0,
            "labelFontSize": 30, "labelFontWeight": "bold", "labelColor": "black", "labelOffset": 12,
            "symbolSize": 324, "symbolFillColor": "black", "symbolStrokeColor": "black", "symbolStrokeWidth": 0,
            "symbolOpacity": 1, "rowPadding": 11, "labelLimit": 0
          }
        }
      }
    },
    {
      "data": {"name": "labels"},
      "mark": {"type": "text", "align": "right", "baseline": "middle", "fontSize": 30, "fontWeight": "bold", "color": "black"},
      "encoding": {"text": {"field": "t"}}
    }
  ]
}
